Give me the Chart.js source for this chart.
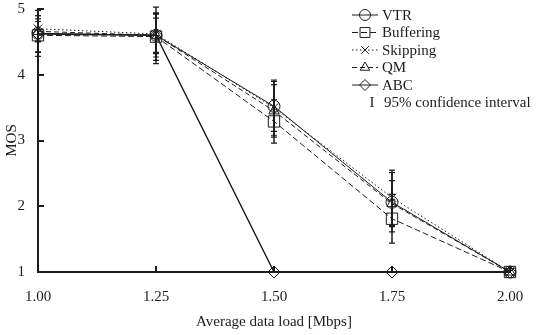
<!DOCTYPE html>
<html>
<head>
<meta charset="utf-8">
<script src="https://cdn.jsdelivr.net/npm/chart.js@4.4.1/dist/chart.umd.min.js"></script>
<style>
  html, body { margin: 0; padding: 0; background: #fff; }
  #wrap { width: 537px; height: 335px; }
</style>
</head>
<body>
<div id="wrap"><canvas id="c" width="537" height="335"></canvas></div>
<script>
// Average data load (Mbps) on the x axis
const loads = [1.00, 1.25, 1.50, 1.75, 2.00];
const mosTicks = [1, 2, 3, 4, 5];

// Mean opinion score per scheme
const vtr       = [4.63, 4.60, 3.52, 2.06, 1.00];
const buffering = [4.60, 4.58, 3.29, 1.81, 1.00];
const skipping  = [4.70, 4.62, 3.50, 2.13, 1.00];
const qm        = [4.66, 4.60, 3.45, 2.04, 1.00];
const abc       = [4.62, 4.60, 1.00, 1.00, 1.00];

// Half-width of the 95% confidence interval per point
const vtrCI       = [0.35, 0.43, 0.38, 0.45, 0];
const bufferingCI = [0.25, 0.36, 0.33, 0.37, 0];
const skippingCI  = [0.20, 0.30, 0.42, 0.42, 0];
const qmCI        = [0.15, 0.26, 0.40, 0.35, 0];
const abcCI       = [0.28, 0.33, 0, 0, 0];

const FONT = '"Liberation Serif", "DejaVu Serif", serif';
const INK = '#1c1c1c';

function series(label, values, ci, style, dash, radius) {
  return {
    label,
    data: loads.map((x, i) => ({ x, y: values[i] })),
    ci,
    pointStyle: style,
    dashPattern: dash,
    borderColor: INK,
    borderWidth: 1,
    borderDash: dash,
    pointRadius: radius,
    pointHoverRadius: radius,
    pointBorderColor: INK,
    pointBorderWidth: 1,
    pointBackgroundColor: 'rgba(0,0,0,0)',
    fill: false,
    tension: 0,
    clip: false
  };
}

const datasets = [
  series('VTR', vtr, vtrCI, 'circle', [], 6),
  series('Buffering', buffering, bufferingCI, 'rect', [6, 3], 8),
  series('Skipping', skipping, skippingCI, 'crossRot', [1.5, 2.5], 6),
  series('QM', qm, qmCI, 'triangle', [5, 3], 6),
  series('ABC', abc, abcCI, 'rectRot', [], 6)
];
datasets[4].borderWidth = 1.4;

// Vertical confidence-interval bars with short caps
const errorBars = {
  id: 'errorBars',
  afterDatasetsDraw(chart) {
    const { ctx } = chart;
    const xs = chart.scales.x, ys = chart.scales.y;
    ctx.save();
    ctx.strokeStyle = INK;
    ctx.setLineDash([]);
    chart.data.datasets.forEach(ds => {
      ds.data.forEach((p, i) => {
        const h = ds.ci[i];
        if (!h) return;
        const x = xs.getPixelForValue(p.x);
        const yt = ys.getPixelForValue(p.y + h);
        const yb = ys.getPixelForValue(p.y - h);
        ctx.lineWidth = 1.5;
        ctx.beginPath();
        ctx.moveTo(x, yt); ctx.lineTo(x, yb);
        ctx.stroke();
        ctx.lineWidth = 1.2;
        ctx.beginPath();
        ctx.moveTo(x - 3, yt); ctx.lineTo(x + 3, yt);
        ctx.moveTo(x - 3, yb); ctx.lineTo(x + 3, yb);
        ctx.stroke();
      });
    });
    ctx.restore();
  }
};

// Inward tick marks on both axes
const innerTicks = {
  id: 'innerTicks',
  afterDraw(chart) {
    const { ctx, chartArea } = chart;
    const xs = chart.scales.x, ys = chart.scales.y;
    ctx.save();
    ctx.strokeStyle = INK;
    ctx.lineWidth = 2;
    mosTicks.forEach(v => {
      const y = Math.round(ys.getPixelForValue(v));
      ctx.beginPath();
      ctx.moveTo(chartArea.left, y); ctx.lineTo(chartArea.left + 6, y);
      ctx.stroke();
    });
    loads.forEach(v => {
      const x = Math.round(xs.getPixelForValue(v));
      ctx.beginPath();
      ctx.moveTo(x, chartArea.bottom); ctx.lineTo(x, chartArea.bottom - 6);
      ctx.stroke();
    });
    ctx.restore();
  }
};

// Legend: line sample with hollow marker, then the label
const sampleLegend = {
  id: 'sampleLegend',
  afterDraw(chart) {
    const { ctx } = chart;
    const rowsY = [15, 32.5, 50, 67.5, 85, 102];
    const x0 = 352, x1 = 378, xm = 365, xt = 382;
    ctx.save();
    ctx.font = '15px ' + FONT;
    ctx.textBaseline = 'middle';
    chart.data.datasets.forEach((ds, i) => {
      const y = rowsY[i];
      ctx.strokeStyle = INK;
      ctx.lineWidth = 1;
      ctx.setLineDash(ds.dashPattern);
      ctx.beginPath();
      ctx.moveTo(x0, y); ctx.lineTo(x1, y);
      ctx.stroke();
      ctx.setLineDash([]);
      ctx.fillStyle = 'rgba(0,0,0,0)';
      Chart.helpers.drawPoint(ctx, {
        pointStyle: ds.pointStyle,
        radius: ds.pointRadius === 8 ? 7 : 5.5,
        rotation: 0,
        borderWidth: 1
      }, xm, y);
      ctx.fillStyle = INK;
      ctx.fillText(ds.label, xt, y + 1);
    });
    const yc = rowsY[5];
    ctx.fillStyle = INK;
    ctx.textAlign = 'center';
    ctx.fillText('I', 372, yc + 1);
    ctx.textAlign = 'left';
    ctx.fillText('95% confidence interval', 384, yc + 1);
    ctx.restore();
  }
};

new Chart(document.getElementById('c'), {
  type: 'line',
  data: { datasets },
  plugins: [errorBars, innerTicks, sampleLegend],
  options: {
    responsive: false,
    devicePixelRatio: 1,
    animation: false,
    events: [],
    layout: { padding: { top: 7, right: 27, left: 0, bottom: 0 } },
    plugins: {
      legend: { display: false },
      tooltip: { enabled: false }
    },
    scales: {
      x: {
        type: 'linear',
        min: 1,
        max: 2,
        afterBuildTicks: s => { s.ticks = loads.map(v => ({ value: v })); },
        afterFit: s => { s.height = 63; s.paddingLeft = 0; s.paddingRight = 0; },
        grid: { display: false, drawTicks: false },
        border: { display: true, color: INK, width: 2 },
        ticks: {
          color: INK,
          padding: 16,
          font: { family: FONT, size: 15 },
          callback: v => Number(v).toFixed(2)
        },
        title: {
          display: true,
          text: 'Average data load [Mbps]',
          color: INK,
          font: { family: FONT, size: 15 },
          padding: { top: 0, bottom: 4 }
        }
      },
      y: {
        type: 'linear',
        min: 1,
        max: 5,
        afterBuildTicks: s => { s.ticks = mosTicks.map(v => ({ value: v })); },
        afterFit: s => { s.width = 38; s.paddingTop = 0; s.paddingBottom = 0; },
        grid: { display: false, drawTicks: false },
        border: { display: true, color: INK, width: 2 },
        ticks: {
          color: INK,
          padding: 13,
          font: { family: FONT, size: 15 }
        },
        title: {
          display: true,
          text: 'MOS',
          color: INK,
          font: { family: FONT, size: 15 },
          padding: { top: 3, bottom: 0 }
        }
      }
    }
  }
});
</script>
</body>
</html>
